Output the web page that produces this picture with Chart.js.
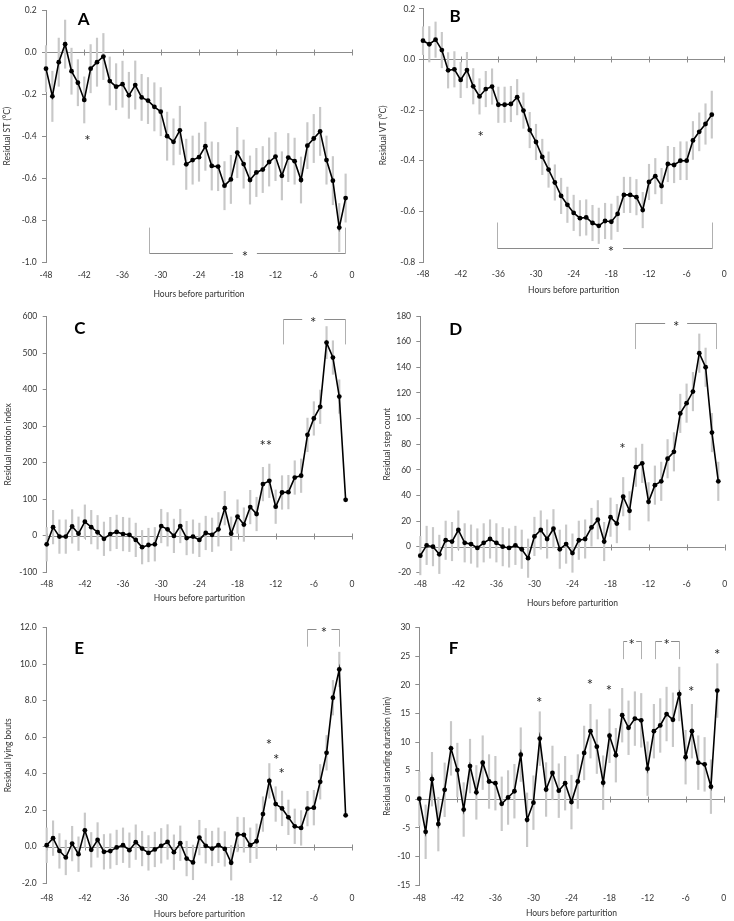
<!DOCTYPE html>
<html>
<head>
<meta charset="utf-8">
<script src="https://cdn.jsdelivr.net/npm/chart.js@4.4.1/dist/chart.umd.min.js"></script>
<style>
    html, body { margin: 0; padding: 0; background: #ffffff; }
    #page { position: relative; width: 734px; height: 921px; overflow: hidden; }
    canvas { position: absolute; }
</style>
</head>
<body>
<div id="page">
    <canvas id="chartA" width="367" height="300" style="left:0px;top:0px"></canvas>
    <canvas id="chartB" width="367" height="300" style="left:367px;top:0px"></canvas>
    <canvas id="chartC" width="367" height="310" style="left:0px;top:300px"></canvas>
    <canvas id="chartD" width="367" height="310" style="left:367px;top:300px"></canvas>
    <canvas id="chartE" width="367" height="311" style="left:0px;top:610px"></canvas>
    <canvas id="chartF" width="367" height="311" style="left:367px;top:610px"></canvas>
</div>
<script>
// hours before parturition (one value per hour)
const hours = [-48, -47, -46, -45, -44, -43, -42, -41, -40, -39, -38, -37, -36, -35, -34, -33,
    -32, -31, -30, -29, -28, -27, -26, -25, -24, -23, -22, -21, -20, -19, -18, -17,
    -16, -15, -14, -13, -12, -11, -10, -9, -8, -7, -6, -5, -4, -3, -2, -1];
const hourTicks = [-48, -42, -36, -30, -24, -18, -12, -6, 0];

// A - residual skin temperature
const stValues = [-0.078, -0.21, -0.047, 0.039, -0.09, -0.145, -0.227, -0.078, -0.047, -0.02,
    -0.137, -0.164, -0.152, -0.205, -0.156, -0.215, -0.23, -0.26, -0.283, -0.40,
    -0.427, -0.372, -0.534, -0.514, -0.50, -0.448, -0.542, -0.545, -0.636, -0.606,
    -0.478, -0.533, -0.609, -0.573, -0.559, -0.523, -0.497, -0.589, -0.502, -0.519,
    -0.609, -0.445, -0.411, -0.377, -0.514, -0.612, -0.836, -0.695];
const stErrors = [0.11, 0.12, 0.115, 0.115, 0.11, 0.11, 0.11, 0.115, 0.115, 0.11,
    0.115, 0.11, 0.11, 0.11, 0.115, 0.11, 0.11, 0.115, 0.115, 0.115,
    0.11, 0.115, 0.12, 0.115, 0.115, 0.115, 0.115, 0.115, 0.115, 0.115,
    0.12, 0.115, 0.115, 0.115, 0.11, 0.115, 0.115, 0.115, 0.115, 0.11,
    0.11, 0.11, 0.115, 0.115, 0.115, 0.115, 0.115, 0.115];
const stTicks = [-1.0, -0.8, -0.6, -0.4, -0.2, 0.0, 0.2];
const stStars = [{ x: -41.5, y: -0.406, text: '*' }];
const stBrackets = [{ x1: -31.8, x2: -1.1, y1: -0.836, y2: -0.956, starX: -16.8, gap: 24 }];

// B - residual vaginal temperature
const vtValues = [0.074, 0.060, 0.078, 0.037, -0.043, -0.039, -0.081, -0.042, -0.106, -0.146,
    -0.117, -0.107, -0.179, -0.179, -0.176, -0.149, -0.202, -0.279, -0.326, -0.385,
    -0.435, -0.486, -0.539, -0.574, -0.606, -0.627, -0.624, -0.646, -0.657, -0.638,
    -0.641, -0.61, -0.535, -0.535, -0.544, -0.595, -0.484, -0.461, -0.50, -0.413,
    -0.417, -0.40, -0.40, -0.32, -0.286, -0.255, -0.218];
const vtErrors = [0.055, 0.07, 0.07, 0.07, 0.07, 0.07, 0.07, 0.07, 0.07, 0.07,
    0.07, 0.07, 0.07, 0.07, 0.07, 0.07, 0.07, 0.07, 0.07, 0.07,
    0.07, 0.07, 0.07, 0.07, 0.07, 0.07, 0.07, 0.07, 0.07, 0.07,
    0.07, 0.07, 0.07, 0.07, 0.07, 0.07, 0.07, 0.07, 0.07, 0.07,
    0.07, 0.075, 0.075, 0.075, 0.075, 0.08, 0.093];
const vtTicks = [-0.8, -0.6, -0.4, -0.2, 0.0, 0.2];
const vtStars = [{ x: -38.8, y: -0.294, text: '*' }];
const vtBrackets = [{ x1: -36.2, x2: -2.0, y1: -0.644, y2: -0.744, starX: -18.05, gap: 24 }];

// C - residual motion index
const motionValues = [-24, 23, -3, -3, 25, 5, 38, 23, 9, -9,
    4, 10, 4, 2, -12, -32, -26, -24, 26, 17,
    -1, 26, -7, -3, -12, 7, 2, 17, 75, 5,
    52, 30, 78, 59, 141, 150, 79, 118, 119, 159,
    164, 276, 321, 353, 529, 488, 381, 98];
const motionErrors = [46, 46, 46, 46, 46, 46, 46, 46, 46, 46,
    46, 46, 46, 46, 46, 46, 46, 46, 46, 46,
    46, 46, 46, 46, 46, 46, 46, 46, 46, 46,
    46, 46, 46, 46, 46, 46, 46, 46, 46, 46,
    46, 46, 46, 46, 44, 46, 46, 0];
const motionTicks = [-100, 0, 100, 200, 300, 400, 500, 600];
const motionStars = [{ x: -13.55, y: 256, text: '**' }];
const motionBrackets = [{ x1: -10.9, x2: -1.1, y1: 524, y2: 594, starX: -6.1, gap: 22 }];

// D - residual step count
const stepValues = [-7, 1, 0, -6, 5, 4, 13, 3, 2, -1,
    3, 6, 3, 0, -1, 1, -2, -9, 8, 13,
    6, 14, -2, 2, -5, 5, 6, 15, 21, 4,
    23, 18, 39, 28, 62, 65, 35, 48, 51, 68.6,
    74, 104, 112, 121, 151, 140, 89, 51];
const stepErrors = [15, 15, 15, 15, 15, 15, 15, 15, 15, 15,
    15, 15, 15, 15, 15, 15, 15, 15, 15, 15,
    15, 15, 15, 15, 15, 15, 15, 15, 15, 15,
    15, 15, 15, 15, 15, 15, 15, 15, 15, 15,
    15, 15, 15, 15, 15, 15, 15, 15];
const stepTicks = [-20, 0, 20, 40, 60, 80, 100, 120, 140, 160, 180];
const stepStars = [{ x: -16.1, y: 79, text: '*' }];
const stepBrackets = [{ x1: -14.1, x2: -1.35, y1: 154.2, y2: 174.3, starX: -7.65, gap: 22 }];

// E - residual lying bouts
const lyingValues = [0.07, 0.46, -0.24, -0.6, 0.16, -0.42, 0.89, -0.18, 0.36, -0.29,
    -0.25, -0.05, 0.07, -0.2, 0.24, -0.11, -0.35, -0.16, 0.04, 0.25,
    -0.31, 0.18, -0.66, -0.87, 0.49, 0.04, -0.11, 0.07, -0.13, -0.89,
    0.66, 0.64, 0.07, 0.29, 1.78, 3.6, 2.33, 2.09, 1.6, 1.11,
    1.02, 2.08, 2.13, 3.55, 5.14, 8.16, 9.71, 1.71];
const lyingErrors = [0.95, 0.95, 0.95, 0.95, 0.95, 0.95, 0.95, 0.95, 0.95, 0.95,
    0.95, 0.95, 0.95, 0.95, 0.95, 0.95, 0.95, 0.95, 0.95, 0.95,
    0.95, 0.95, 0.95, 0.95, 0.95, 0.95, 0.95, 0.95, 0.95, 0.95,
    0.95, 0.95, 0.95, 0.95, 0.95, 0.95, 0.95, 0.95, 0.95, 0.95,
    0.95, 0.95, 0.95, 0.95, 0.95, 0.95, 0.95, 0];
const lyingTicks = [-2.0, 0.0, 2.0, 4.0, 6.0, 8.0, 10.0, 12.0];
const lyingStars = [
    { x: -13.05, y: 5.77, text: '*' },
    { x: -11.9, y: 4.95, text: '*' },
    { x: -11.05, y: 4.19, text: '*' }
];
const lyingBrackets = [{ x1: -7.0, x2: -2.0, y1: 10.96, y2: 11.93, starX: -4.4, gap: 15 }];

// F - residual standing duration
const standingValues = [0.1, -5.7, 3.5, -4.35, 1.65, 8.9, 5.1, -1.8, 5.8, 1.2,
    6.4, 3.1, 2.8, -0.8, 0.3, 1.4, 7.8, -3.6, -0.6, 10.6,
    1.7, 4.6, 1.5, 2.8, -0.5, 3.1, 8.1, 11.9, 9.2, 2.9,
    11.1, 7.7, 14.7, 12.5, 14.1, 13.8, 5.35, 11.9, 12.9, 14.9,
    13.9, 18.4, 7.35, 11.9, 6.4, 6.1, 2.2, 19.0];
const standingErrors = [4.7, 4.7, 4.7, 4.7, 4.7, 4.7, 4.7, 4.7, 4.7, 4.7,
    4.7, 4.7, 4.7, 4.7, 4.7, 4.7, 4.7, 4.7, 4.7, 4.7,
    4.7, 4.7, 4.7, 4.7, 4.7, 4.7, 4.7, 4.7, 4.7, 4.7,
    4.7, 4.7, 4.7, 4.7, 4.7, 4.7, 4.7, 4.7, 4.7, 4.7,
    4.7, 4.7, 4.7, 4.7, 4.7, 4.7, 4.7, 4.7];
const standingTicks = [-15, -10, -5, 0, 5, 10, 15, 20, 25, 30];
const standingStars = [
    { x: -29.1, y: 17.5, text: '*' },
    { x: -21.1, y: 20.6, text: '*' },
    { x: -18.1, y: 19.5, text: '*' },
    { x: -5.1, y: 19.3, text: '*' },
    { x: -1.0, y: 25.8, text: '*' }
];
const standingBrackets = [
    { x1: -15.9, x2: -13.0, y1: 24.5, y2: 27.6, starX: -14.5, gap: 9 },
    { x1: -10.9, x2: -7.0, y1: 24.5, y2: 27.6, starX: -9.0, gap: 9 }
];

const textColor = '#333333';
const axisColor = '#8c8c8c';
const barColor = '#c8c8c8';
Chart.defaults.font.family = 'Lato, "Open Sans", sans-serif';

function drawCentered(ctx, text, px, py) {
    const m = ctx.measureText(text);
    ctx.fillText(text, px, py + (m.actualBoundingBoxAscent - m.actualBoundingBoxDescent) / 2);
}

function panelMarks(p) {
    return {
        id: 'panelMarks',
        beforeDatasetsDraw(chart) {
            // zero line with hour ticks
            const { ctx, scales: { x, y } } = chart;
            const y0 = Math.round(y.getPixelForValue(0)) + 0.5;
            ctx.save();
            ctx.strokeStyle = axisColor;
            ctx.lineWidth = 1;
            ctx.beginPath();
            ctx.moveTo(x.left, y0);
            ctx.lineTo(x.right, y0);
            hourTicks.forEach(h => {
                const px = Math.round(x.getPixelForValue(h)) + 0.5;
                ctx.moveTo(px, y0 - 3);
                ctx.lineTo(px, y0 + 3);
            });
            ctx.stroke();
            ctx.restore();
        },
        afterDatasetsDraw(chart) {
            const { ctx, scales: { x, y } } = chart;
            ctx.save();
            ctx.textAlign = 'center';
            ctx.textBaseline = 'alphabetic';

            ctx.fillStyle = '#000';
            ctx.font = 'bold 17px Lato';
            drawCentered(ctx, p.letter, x.getPixelForValue(p.letterAt[0]), y.getPixelForValue(p.letterAt[1]));

            ctx.fillStyle = '#262626';
            ctx.font = '15px Lato';
            p.stars.forEach(s => drawCentered(ctx, s.text, x.getPixelForValue(s.x), y.getPixelForValue(s.y)));

            p.brackets.forEach(b => {
                const x1 = Math.round(x.getPixelForValue(b.x1)) + 0.5;
                const x2 = Math.round(x.getPixelForValue(b.x2)) + 0.5;
                const ya = y.getPixelForValue(b.y1);
                const yb = Math.round(y.getPixelForValue(b.y2)) + 0.5;
                const sx = x.getPixelForValue(b.starX);
                ctx.lineWidth = 1;
                ctx.strokeStyle = '#b0b0b0';
                ctx.beginPath();
                ctx.moveTo(x1, ya); ctx.lineTo(x1, yb);
                ctx.moveTo(x2, ya); ctx.lineTo(x2, yb);
                ctx.stroke();
                ctx.strokeStyle = '#8a8a8a';
                ctx.beginPath();
                ctx.moveTo(x1, yb); ctx.lineTo(sx - b.gap / 2, yb);
                ctx.moveTo(sx + b.gap / 2, yb); ctx.lineTo(x2, yb);
                ctx.stroke();
                drawCentered(ctx, '*', sx, yb);
            });
            ctx.restore();
        }
    };
}

function renderPanel(p) {
    const points = p.values.map((v, i) => ({ x: hours[i], y: v }));
    const errorBars = p.values.map((v, i) => ({ x: hours[i], y: [v - p.errors[i], v + p.errors[i]] }));
    const box = p.box;
    const config = {
        type: 'line',
        data: {
            datasets: [{
                type: 'line',
                data: points,
                borderColor: '#000',
                borderWidth: 1.6,
                pointRadius: 2.4,
                pointBackgroundColor: '#000',
                pointBorderWidth: 0,
                tension: 0,
                clip: false,
                order: 1
            }, {
                type: 'bar',
                data: errorBars,
                backgroundColor: barColor,
                borderWidth: 0,
                barThickness: 1.5,
                clip: false,
                order: 2
            }]
        },
        options: {
            responsive: false,
            animation: false,
            layout: {
                padding: { left: box.padL, top: box.padT, right: box.padR, bottom: box.padB }
            },
            scales: {
                x: {
                    type: 'linear',
                    min: -48,
                    max: 0,
                    offset: false,
                    afterBuildTicks: s => { s.ticks = hourTicks.map(v => ({ value: v })); },
                    afterFit: s => { s.height = box.xHeight; },
                    grid: { display: false, drawTicks: false },
                    border: { display: false },
                    ticks: {
                        padding: box.xTickPad,
                        autoSkip: false,
                        maxRotation: 0,
                        color: textColor,
                        font: { size: 8.5 },
                        callback: v => String(v)
                    },
                    title: {
                        display: true,
                        text: 'Hours before parturition',
                        color: textColor,
                        font: { size: 8.5 },
                        padding: 0
                    }
                },
                y: {
                    type: 'linear',
                    min: p.ticks[0],
                    max: p.ticks[p.ticks.length - 1],
                    afterBuildTicks: s => { s.ticks = p.ticks.map(v => ({ value: v })); },
                    afterFit: s => { s.width = box.yWidth; },
                    grid: { drawOnChartArea: false, drawTicks: true, tickLength: 4, color: axisColor },
                    border: { display: true, color: axisColor },
                    ticks: {
                        padding: box.yTickPad,
                        color: textColor,
                        font: { size: 8.5 },
                        callback: v => v.toFixed(p.decimals)
                    },
                    title: {
                        display: true,
                        text: p.yTitle,
                        color: textColor,
                        font: { size: 8.5 },
                        padding: 0
                    }
                }
            },
            plugins: {
                legend: { display: false },
                tooltip: { enabled: false }
            }
        },
        plugins: [panelMarks(p)]
    };
    return new Chart(document.getElementById(p.canvas), config);
}

renderPanel({
    canvas: 'chartA', values: stValues, errors: stErrors, ticks: stTicks, decimals: 1,
    yTitle: 'Residual ST (°C)', letter: 'A', letterAt: [-42.1, 0.161],
    stars: stStars, brackets: stBrackets,
    box: { padL: 1.9, padT: 6, padR: 15, padB: 0.9, yWidth: 44.1, xHeight: 37.1, xTickPad: 8.2, yTickPad: 5.3 }
});
renderPanel({
    canvas: 'chartB', values: vtValues, errors: vtErrors, ticks: vtTicks, decimals: 1,
    yTitle: 'Residual VT (°C)', letter: 'B', letterAt: [-42.9, 0.172],
    stars: vtStars, brackets: vtBrackets,
    box: { padL: 11.6, padT: 7, padR: 5.3, padB: 4.9, yWidth: 44.4, xHeight: 33.1, xTickPad: 7.2, yTickPad: 3.7 }
});
renderPanel({
    canvas: 'chartC', values: motionValues, errors: motionErrors, ticks: motionTicks, decimals: 0,
    yTitle: 'Residual motion index', letter: 'C', letterAt: [-42.8, 568],
    stars: motionStars, brackets: motionBrackets,
    box: { padL: 3.2, padT: 16.7, padR: 15, padB: 6.9, yWidth: 43.5, xHeight: 31.1, xTickPad: 7.2, yTickPad: 5.4 }
});
renderPanel({
    canvas: 'chartD', values: stepValues, errors: stepErrors, ticks: stepTicks, decimals: 0,
    yTitle: 'Residual step count', letter: 'D', letterAt: [-42.4, 170],
    stars: stepStars, brackets: stepBrackets,
    box: { padL: 15.6, padT: 16, padR: 4.3, padB: 1.9, yWidth: 37.7, xHeight: 35.8, xTickPad: 6.9, yTickPad: 5.3 }
});
renderPanel({
    canvas: 'chartE', values: lyingValues, errors: lyingErrors, ticks: lyingTicks, decimals: 1,
    yTitle: 'Residual lying bouts', letter: 'E', letterAt: [-42.9, 10.9],
    stars: lyingStars, brackets: lyingBrackets,
    box: { padL: 3.2, padT: 17.7, padR: 15, padB: 1.9, yWidth: 43.5, xHeight: 36.1, xTickPad: 9.9, yTickPad: 6 }
});
renderPanel({
    canvas: 'chartF', values: standingValues, errors: standingErrors, ticks: standingTicks, decimals: 0,
    yTitle: 'Residual standing duration (min)', letter: 'F', letterAt: [-42.6, 26.5],
    stars: standingStars, brackets: standingBrackets,
    box: { padL: 15.6, padT: 17.7, padR: 4.3, padB: 2.9, yWidth: 36.7, xHeight: 33.1, xTickPad: 7.9, yTickPad: 5 }
});
</script>
</body>
</html>
